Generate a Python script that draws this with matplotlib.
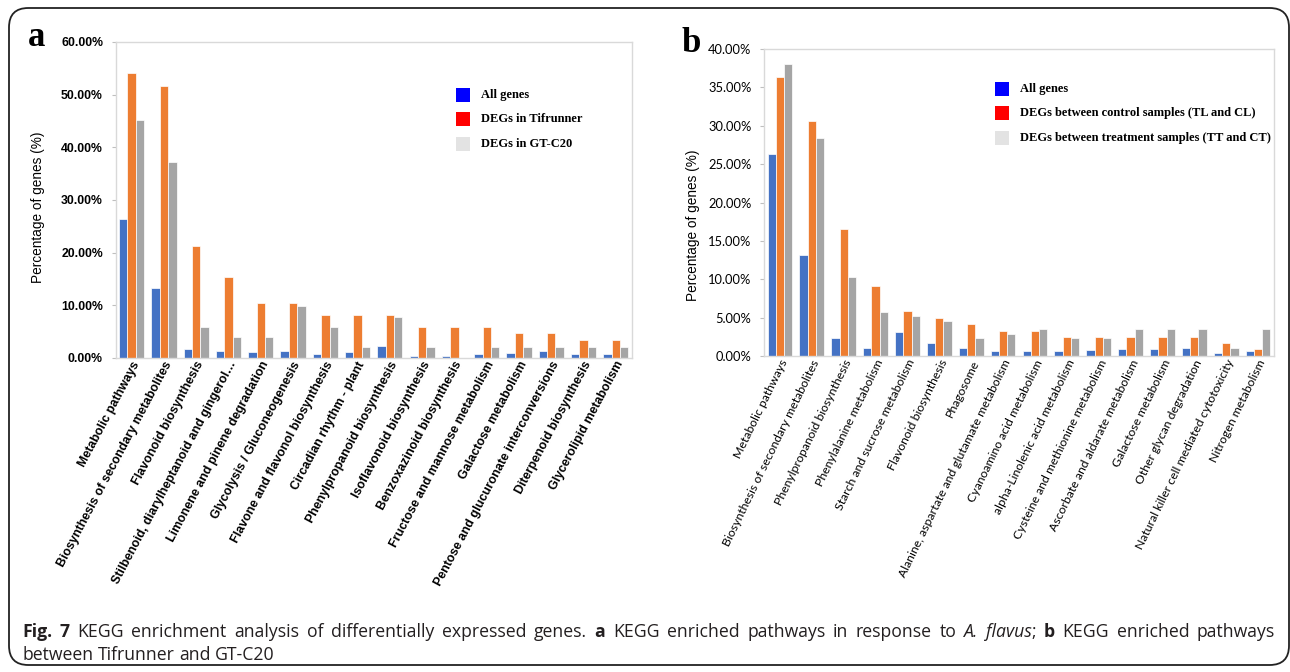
import matplotlib
matplotlib.use('Agg')
import matplotlib.pyplot as plt
from matplotlib.patches import Rectangle, FancyBboxPatch
from matplotlib.ticker import FuncFormatter, MultipleLocator
import numpy as np

# ---------------- data ----------------
cats_a = ["Metabolic pathways", "Biosynthesis of secondary metabolites",
          "Flavonoid biosynthesis", "Stilbenoid, diarylheptanoid and gingerol…",
          "Limonene and pinene degradation", "Glycolysis / Gluconeogenesis",
          "Flavone and flavonol biosynthesis", "Circadian rhythm - plant",
          "Phenylpropanoid biosynthesis", "Isoflavonoid biosynthesis",
          "Benzoxazinoid biosynthesis", "Fructose and mannose metabolism",
          "Galactose metabolism", "Pentose and glucuronate interconversions",
          "Diterpenoid biosynthesis", "Glycerolipid metabolism"]
all_a = [26.3, 13.2, 1.7, 1.4, 1.1, 1.4, 0.8, 1.1, 2.3, 0.3, 0.4, 0.8, 0.9, 1.3, 0.8, 0.8]
tif_a = [54.1, 51.7, 21.2, 15.3, 10.5, 10.5, 8.2, 8.2, 8.2, 5.9, 5.9, 5.9, 4.7, 4.7, 3.5, 3.5]
gt_a = [45.2, 37.2, 5.9, 3.9, 3.9, 9.8, 5.9, 2.0, 7.8, 2.0, 0.0, 2.0, 2.0, 2.0, 2.0, 2.0]
legend_a = ["All genes", "DEGs in Tifrunner", "DEGs in GT-C20"]

cats_b = ["Metabolic pathways", "Biosynthesis of secondary metabolites",
          "Phenylpropanoid biosynthesis", "Phenylalanine metabolism",
          "Starch and sucrose metabolism", "Flavonoid biosynthesis", "Phagosome",
          "Alanine, aspartate and glutamate metabolism", "Cyanoamino acid metabolism",
          "alpha-Linolenic acid metabolism", "Cysteine and methionine metabolism",
          "Ascorbate and aldarate metabolism", "Galactose metabolism",
          "Other glycan degradation", "Natural killer cell mediated cytotoxicity",
          "Nitrogen metabolism"]
all_b = [26.3, 13.2, 2.4, 1.0, 3.1, 1.7, 1.0, 0.6, 0.7, 0.6, 0.8, 0.9, 0.9, 1.0, 0.4, 0.6]
ctrl_b = [36.4, 30.6, 16.5, 9.1, 5.8, 5.0, 4.2, 3.3, 3.3, 2.5, 2.5, 2.5, 2.5, 2.5, 1.7, 0.9]
treat_b = [38.1, 28.4, 10.3, 5.7, 5.2, 4.5, 2.3, 2.9, 3.5, 2.3, 2.3, 3.5, 3.5, 3.5, 1.1, 3.5]
legend_b = ["All genes", "DEGs between control samples (TL and CL)",
            "DEGs between treatment samples (TT and CT)"]

# ---------------- layout ----------------
W, H = 1290, 672
fig = plt.figure(figsize=(W / 100, H / 100), dpi=100)
fx = lambda px: px / W
fy = lambda py: 1 - py / H

bar_colors = ['#4472C4', '#ED7D31', '#A5A5A5']
legend_colors = ['#0000FF', '#FF0000', '#E3E3E3']


def panel(rect, series, cats, ymax, ystep, tickfont, tickweight, tickfs, rot,
          yfont, yweight, yfs):
    ax = fig.add_axes(rect)
    x = np.arange(len(cats))
    w = 0.26
    for i, (vals, c) in enumerate(zip(series, bar_colors)):
        ax.bar(x + (i - 1) * w, vals, w, color=c, edgecolor='white', linewidth=0.5)
    ax.set_xlim(-0.5, len(cats) - 0.5)
    ax.set_ylim(0, ymax)
    ax.yaxis.set_major_locator(MultipleLocator(ystep))
    ax.yaxis.set_major_formatter(FuncFormatter(lambda v, p: f"{v:.2f}%"))
    for s in ax.spines.values():
        s.set_color('#D9D9D9')
        s.set_linewidth(1.0)
    ax.tick_params(axis='y', length=3, color='#BFBFBF', pad=6)
    ax.tick_params(axis='x', length=0, pad=3)
    ax.set_xticks(x + 0.15)
    ax.set_xticklabels(cats, rotation=rot, ha='right', va='center', rotation_mode='anchor',
                       family=tickfont, fontweight=tickweight, fontsize=tickfs, color='black')
    for lab in ax.get_yticklabels():
        lab.set_family(yfont)
        lab.set_fontweight(yweight)
        lab.set_fontsize(yfs)
        lab.set_color('black')
    return ax


axa = panel([fx(115.5), fy(358), fx(632) - fx(115.5), fy(42) - fy(358)],
            [all_a, tif_a, gt_a], cats_a, 60, 10, 'Liberation Sans', 'bold', 8.9, 62,
            'Liberation Sans', 'bold', 8.8)
axb = panel([fx(764), fy(356), fx(1274) - fx(764), fy(49) - fy(356)],
            [all_b, ctrl_b, treat_b], cats_b, 40, 5, 'Lato', 'normal', 8.8, 64,
            'Lato', 'normal', 9.3)

# y labels
fig.text(fx(38), fy(207), "Percentage of genes (%)", rotation=90, ha='center', va='center',
         family='Liberation Sans', fontsize=9.8)
fig.text(fx(693), fy(225), "Percentage of genes (%)", rotation=90, ha='center', va='center',
         family='Liberation Sans', fontsize=9.8)

# panel letters
fig.text(fx(28), fy(46), "a", family='Liberation Serif', fontweight='bold', fontsize=25,
         ha='left', va='baseline')
fig.text(fx(681), fy(52), "b", family='Liberation Serif', fontweight='bold', fontsize=25,
         ha='left', va='baseline')


# legends (drawn manually)
def legend(x0, y0s, labels):
    for yc, lab, c in zip(y0s, labels, legend_colors):
        fig.add_artist(Rectangle((fx(x0), fy(yc + 7)), fx(14), 14 / H, facecolor=c,
                                 edgecolor='none', transform=fig.transFigure))
        fig.text(fx(x0 + 25), fy(yc), lab, family='Liberation Serif', fontweight='bold',
                 fontsize=9, ha='left', va='center')


legend(456, [95, 119, 144], legend_a)
legend(995, [89, 113, 138], legend_b)

# outer rounded frame
fig.add_artist(FancyBboxPatch((fx(9), fy(665)), fx(1289) - fx(9), fy(8) - fy(665),
                              boxstyle="round,pad=0,rounding_size=0.015",
                              transform=fig.transFigure, facecolor='none',
                              edgecolor='#222222', linewidth=1.3,
                              mutation_aspect=W / H))

# caption with mixed styles; (word, weight, style, space_before)
line1 = [("Fig.", 'bold', 'normal', False), ("7", 'bold', 'normal', True),
         ("KEGG", 'normal', 'normal', True), ("enrichment", 'normal', 'normal', True),
         ("analysis", 'normal', 'normal', True), ("of", 'normal', 'normal', True),
         ("differentially", 'normal', 'normal', True), ("expressed", 'normal', 'normal', True),
         ("genes.", 'normal', 'normal', True), ("a", 'bold', 'normal', True),
         ("KEGG", 'normal', 'normal', True), ("enriched", 'normal', 'normal', True),
         ("pathways", 'normal', 'normal', True), ("in", 'normal', 'normal', True),
         ("response", 'normal', 'normal', True), ("to", 'normal', 'normal', True),
         ("A.", 'normal', 'italic', True), ("flavus", 'normal', 'italic', True),
         (";", 'normal', 'normal', False), ("b", 'bold', 'normal', True),
         ("KEGG", 'normal', 'normal', True), ("enriched", 'normal', 'normal', True),
         ("pathways", 'normal', 'normal', True)]
line2 = [("between", 'normal', 'normal', False), ("Tifrunner", 'normal', 'normal', True),
         ("and", 'normal', 'normal', True), ("GT-C20", 'normal', 'normal', True)]

fig.canvas.draw()
renderer = fig.canvas.get_renderer()
CAP_FS = 12.7


def caption(tokens, x0, y, justify_to=None):
    texts, widths = [], []
    for word, wt, st, sp in tokens:
        t = fig.text(0, fy(y), word, family='Open Sans', fontweight=wt, fontstyle=st,
                     fontsize=CAP_FS, ha='left', va='baseline', color='#231F20')
        texts.append(t)
        widths.append(t.get_window_extent(renderer=renderer).width)
    probe = fig.text(0, 0, "a a", family='Open Sans', fontsize=CAP_FS)
    probe2 = fig.text(0, 0, "aa", family='Open Sans', fontsize=CAP_FS)
    space = probe.get_window_extent(renderer=renderer).width - \
        probe2.get_window_extent(renderer=renderer).width
    probe.remove()
    probe2.remove()
    ngaps = sum(1 for tk in tokens if tk[3])
    if justify_to is not None and ngaps:
        space = max(space, (justify_to - x0 - sum(widths)) / ngaps)
    x = x0
    for t, wdt, tk in zip(texts, widths, tokens):
        if tk[3]:
            x += space
        t.set_x(fx(x))
        x += wdt


caption(line1, 22, 637, justify_to=1275)
caption(line2, 22, 660)

fig.savefig("out.png", dpi=100)
